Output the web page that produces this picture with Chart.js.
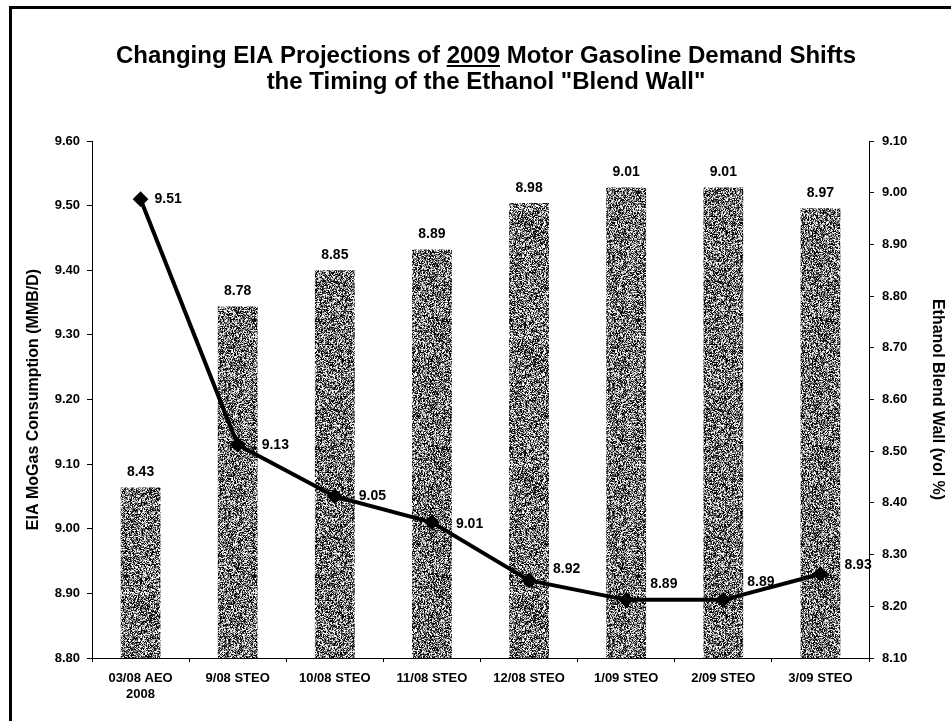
<!DOCTYPE html>
<html>
<head>
<meta charset="utf-8">
<script src="https://cdn.jsdelivr.net/npm/chart.js@4.4.1/dist/chart.umd.min.js"></script>
<style>
  html, body { margin: 0; padding: 0; background: #fff; }
  #wrap { position: relative; width: 951px; height: 721px; }
</style>
</head>
<body>
<div id="wrap"><canvas id="blendChart" width="951" height="721"></canvas></div>
<script>
// categories (x axis), two lines for the first one
const labels = [["03/08 AEO", "2008"], "9/08 STEO", "10/08 STEO", "11/08 STEO", "12/08 STEO", "1/09 STEO", "2/09 STEO", "3/09 STEO"];
// bars -> right axis, ethanol blend wall (vol %)
const blendWall = [8.43, 8.78, 8.85, 8.89, 8.98, 9.01, 9.01, 8.97];
// line -> left axis, EIA MoGas consumption (MMB/D)
const mogasDemand = [9.51, 9.13, 9.05, 9.01, 8.92, 8.89, 8.89, 8.93];

const leftAxis = { min: 8.80, max: 9.60, step: 0.10 };
const rightAxis = { min: 8.10, max: 9.10, step: 0.10 };

// label nudges for the line values (px), so they clear the line like the original
const lineLabelDx = [14, 24, 24, 24, 24, 24, 24, 24];
const lineLabelDy = [0, 0, 0, 2, -11, -16, -18, -9];

const FONT = "'Liberation Sans', Arial, sans-serif";

// grainy grey fill like the scanned bars (fixed hash, not data)
function makeGrain() {
    var n = 128;
    var c = document.createElement("canvas");
    c.width = n; c.height = n;
    var g = c.getContext("2d");
    var img = g.createImageData(n, n);
    var shades = [0, 0, 25, 60, 95, 130, 165, 200, 240, 255];
    for (var y = 0; y < n; y++) {
        for (var x = 0; x < n; x++) {
            var h = Math.imul(x + 1, 0x9e3779b1) ^ Math.imul(y + 7, 0x85ebca77);
            h = Math.imul(h ^ (h >>> 15), 0x2c1b3c6d);
            h = Math.imul(h ^ (h >>> 12), 0x297a2d39);
            h = (h ^ (h >>> 15)) >>> 0;
            var v = shades[h % shades.length];
            var i = (y * n + x) * 4;
            img.data[i] = v; img.data[i + 1] = v; img.data[i + 2] = v; img.data[i + 3] = 255;
        }
    }
    g.putImageData(img, 0, 0);
    return g.createPattern(c, "repeat");
}

const valueLabels = {
    id: "valueLabels",
    afterDatasetsDraw(chart) {
        const ctx = chart.ctx;
        ctx.save();
        ctx.fillStyle = "#000";
        ctx.font = "bold 14px " + FONT;
        chart.data.datasets.forEach(function(ds, di) {
            const meta = chart.getDatasetMeta(di);
            meta.data.forEach(function(el, i) {
                const txt = ds.data[i].toFixed(2);
                if (ds.type === "bar") {
                    ctx.textAlign = "center";
                    ctx.textBaseline = "bottom";
                    ctx.fillText(txt, el.x, el.y - 8);
                } else {
                    ctx.textAlign = "left";
                    ctx.textBaseline = "middle";
                    ctx.fillText(txt, el.x + lineLabelDx[i], el.y + lineLabelDy[i]);
                }
            });
        });
        ctx.restore();
    }
};

const frameAndTitle = {
    id: "frameAndTitle",
    afterDraw(chart) {
        const ctx = chart.ctx;
        ctx.save();
        // page frame (top + left edges only are visible)
        ctx.fillStyle = "#000";
        ctx.fillRect(9, 6, 942, 3);
        ctx.fillRect(9, 6, 3, 715);

        ctx.font = "bold 24px " + FONT;
        ctx.textBaseline = "alphabetic";
        ctx.textAlign = "left";
        const cx = 486;
        const pre = "Changing EIA Projections of ";
        const yr = "2009";
        const post = " Motor Gasoline Demand Shifts";
        const w1 = ctx.measureText(pre).width;
        const w2 = ctx.measureText(yr).width;
        const w3 = ctx.measureText(post).width;
        let x = cx - (w1 + w2 + w3) / 2;
        ctx.fillText(pre, x, 63);
        ctx.fillText(yr, x + w1, 63);
        ctx.fillText(post, x + w1 + w2, 63);
        ctx.fillRect(x + w1, 65, w2, 2);
        ctx.textAlign = "center";
        ctx.fillText("the Timing of the Ethanol \"Blend Wall\"", cx, 89);
        ctx.restore();
    }
};

new Chart(document.getElementById("blendChart"), {
    data: {
        labels: labels,
        datasets: [
            {
                type: "line",
                label: "EIA MoGas Consumption",
                data: mogasDemand,
                yAxisID: "yLeft",
                borderColor: "#000",
                backgroundColor: "#000",
                borderWidth: 4,
                pointStyle: "rectRot",
                pointRadius: 5,
                pointBackgroundColor: "#000",
                pointBorderColor: "#000",
                tension: 0,
                order: 0
            },
            {
                type: "bar",
                label: "Ethanol Blend Wall",
                data: blendWall,
                yAxisID: "yRight",
                backgroundColor: makeGrain(),
                borderWidth: 0,
                barPercentage: 0.82,
                categoryPercentage: 0.5,
                order: 1
            }
        ]
    },
    options: {
        responsive: false,
        animation: false,
        events: [],
        layout: { padding: { top: 141, left: 0, right: 0, bottom: 0 } },
        plugins: { legend: { display: false }, tooltip: { enabled: false }, title: { display: false } },
        scales: {
            x: {
                offset: true,
                grid: { display: true, drawOnChartArea: false, offset: true, color: "#000", tickLength: 4 },
                border: { display: true, color: "#000", width: 1 },
                ticks: { color: "#000", font: { family: FONT, size: 13, weight: "bold" }, padding: 9, maxRotation: 0, autoSkip: false },
                afterFit(scale) { scale.height = 63; }
            },
            yLeft: {
                position: "left",
                min: leftAxis.min,
                max: leftAxis.max,
                grid: { display: true, drawOnChartArea: false, color: "#000", tickLength: 5 },
                border: { display: true, color: "#000", width: 1 },
                ticks: {
                    stepSize: leftAxis.step,
                    color: "#000",
                    padding: 7,
                    font: { family: FONT, size: 13, weight: "bold" },
                    callback: function(v) { return v.toFixed(2); }
                },
                title: {
                    display: true,
                    text: "EIA MoGas Consumption (MMB/D)",
                    color: "#000",
                    font: { family: FONT, size: 16, weight: "bold" },
                    padding: { top: 24, bottom: 0 }
                },
                afterFit(scale) { scale.width = 92; }
            },
            yRight: {
                position: "right",
                min: rightAxis.min,
                max: rightAxis.max,
                grid: { display: true, drawOnChartArea: false, color: "#000", tickLength: 5 },
                border: { display: true, color: "#000", width: 1 },
                ticks: {
                    stepSize: rightAxis.step,
                    color: "#000",
                    padding: 8,
                    font: { family: FONT, size: 13, weight: "bold" },
                    callback: function(v) { return v.toFixed(2); }
                },
                title: {
                    display: true,
                    text: "Ethanol Blend Wall (vol %)",
                    color: "#000",
                    font: { family: FONT, size: 16, weight: "bold" },
                    padding: { top: 4, bottom: 0 }
                },
                afterFit(scale) { scale.width = 82; }
            }
        }
    },
    plugins: [valueLabels, frameAndTitle]
});
</script>
</body>
</html>
